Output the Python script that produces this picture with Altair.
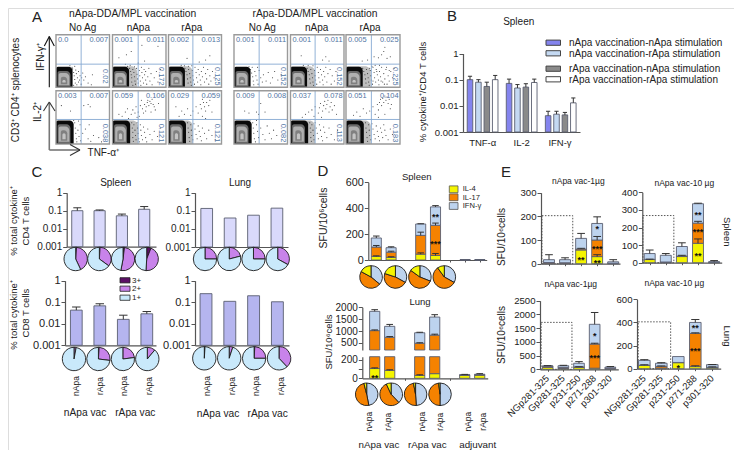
import math
import altair as alt
import pandas as pd

FONT = "Liberation Sans"
W, H = 726, 442
INK = "#222222"
BLUE_TXT = "#4f74a3"
QLINE = "#86a9d2"
layers = []

# ---------- panel B ----------
B_FILL = ["#8484ee", "#c4d9f2", "#8a8a8a", "#ffffff"]
B_TNF = [0.1, 0.08, 0.055, 0.1]
B_TNF_E = [0.135, 0.1, 0.08, 0.145]
B_IL2 = [0.072, 0.048, 0.052, 0.078]
B_IL2_E = [0.105, 0.065, 0.07, 0.105]
B_IFN = [0.0042, 0.0048, 0.0045, 0.013]
B_IFN_E = [0.0062, 0.0062, 0.0056, 0.02]
B_LEGEND = ["nApa vaccination-nApa stimulation", "nApa vaccination-rApa stimulation",
            "rApa vaccination-nApa stimulation", "rApa vaccination-rApa stimulation"]

# ---------- panel C ----------
C_SP4 = [0.1, 0.1, 0.052, 0.12]
C_SP4_E = [0.145, 0.11, 0.065, 0.17]
C_LU4 = [0.135, 0.04, 0.057, 0.14]
C_SP8 = [0.043, 0.068, 0.016, 0.029]
C_SP8_E = [0.06, 0.085, 0.025, 0.037]
C_LU8 = [0.25, 0.11, 0.2, 0.105]
C_PIE_COL = ["#5c0f66", "#c883ea", "#c9e9fb"]
C_PIE_SP4 = [(0.01, 0.42), (0.01, 0.34), (0.02, 0.51), (0.06, 0.45)]
C_PIE_LU4 = [(0.0, 0.25), (0.0, 0.21), (0.0, 0.25), (0.0, 0.33)]
C_PIE_SP8 = [(0.0, 0.03), (0.01, 0.26), (0.0, 0.23), (0.0, 0.11)]
C_PIE_LU8 = [(0.01, 0.0), (0.0, 0.05), (0.01, 0.24), (0.0, 0.38)]

# ---------- panels D, E ----------
CYT_COL = ["#f4f400", "#f58200", "#bdd3ee"]
D_SP_IL4 = [28, 20, 45, 35, 1, 1]
D_SP_IL17 = [100, 60, 190, 268, 2, 2]
D_SP_IFN = [170, 95, 278, 410, 3, 3]
D_SP_E3 = [185, 102, 280, 420, 3, 3]
D_SP_E2 = [112, 68, 215, 285, 2, 2]
D_SP_E1 = [32, 25, 55, 50, 1, 1]
D_SP_SLOT = [0, 1, 3, 4, 6, 7]
D_SP_PIE = [(0.36, 0.47, 0.17), (0.33, 0.47, 0.20), (0.31, 0.54, 0.15), (0.33, 0.57, 0.10)]
D_LU_IL4 = [105, 85, 30, 50, 33, 33]
D_LU_IL17 = [1020, 740, 490, 830, 35, 38]
D_LU_IFN = [1830, 1200, 930, 1590, 38, 44]
D_LU_E3 = [1900, 1280, 950, 1690, 42, 50]
D_LU_E2 = [1050, 770, 510, 870, 35, 38]
D_LU_E1 = [112, 92, 38, 50, 33, 33]
D_LU_PIE = [(0.47, 0.49, 0.04), (0.38, 0.55, 0.07), (0.49, 0.48, 0.03), (0.50, 0.48, 0.02)]
E_PEPTIDES = ["NGp281-325", "Gp281-325", "p231-250", "p271-288", "p301-320"]
E1 = dict(il4=[2, 2, 58, 30, 1], il17=[5, 4, 62, 100, 2], ifn=[17, 17, 107, 170, 8],
          e3=[38, 25, 128, 198, 17], e2=[5, 4, 65, 115, 2], e1=[2, 2, 58, 38, 1], box=203)
E2 = dict(il4=[18, 3, 35, 110, 1], il17=[19, 4, 38, 225, 2], ifn=[52, 42, 92, 335, 6],
          e3=[72, 52, 113, 338, 12], e2=[19, 4, 42, 235, 2], e1=[20, 3, 35, 135, 1], box=268)
E3 = dict(il4=[70, 30, 70, 40, 15], il17=[110, 70, 90, 920, 40], ifn=[125, 130, 220, 1640, 80],
          e3=[135, 145, 280, 2070, 100], e2=[110, 70, 95, 950, 40], e1=[70, 30, 70, 40, 15], box=1710)
E4 = dict(il4=[28, 5, 52, 18, 10], il17=[30, 20, 54, 305, 12], ifn=[72, 47, 105, 400, 35],
          e3=[78, 52, 105, 425, 36], e2=[34, 24, 54, 310, 16], e1=[28, 5, 52, 25, 10], box=405)

# ---------- panel A: values and hand-read event positions (percent of each plot) ----------
A_VALUES = [
    ("0.0", "0.007", "0.02"), ("0.001", "0.011", "0.172"), ("0.002", "0.013", "0.125"),
    ("0.001", "0.011", "0.152"), ("0.001", "0.011", "0.152"), ("0.005", "0.025", "0.225"),
    ("0.003", "0.007", "0.038"), ("0.059", "0.106", "0.121"), ("0.029", "0.059", "0.121"),
    ("0.009", "0.008", "0.082"), ("0.037", "0.078", "0.113"), ("0.051", "0.104", "0.183"),
]
A_DOTS = [
    "31,35 33,28 34,22 35,15 36,8 33,4 38,26 40,18 42,10 37,33 30,38 26,41 42,30 45,22 47,6 52,14 55,20 60,8 68,24 66,5 50,27 35,40 44,14 39,5 48,18",
    "32,36 34,30 35,24 36,18 36,10 38,4 38,34 40,28 41,20 42,12 43,6 45,36 46,25 47,16 48,8 50,32 51,22 52,12 53,4 54,38 55,28 56,18 58,8 59,34 60,24 62,14 62,30 64,6 66,20 68,36 70,12 72,26 74,5 78,18 82,30 85,10 88,22 90,34 28,40 24,44 33,42 41,39 12,56 26,62 35,68 60,50 85,78 55,80 48,46 30,34",
    "31,36 33,30 35,24 36,16 37,8 38,34 40,26 41,18 42,10 43,4 45,32 46,22 47,14 49,6 50,38 52,28 53,18 55,10 56,34 58,24 60,14 61,5 62,30 64,20 66,38 68,10 70,26 72,16 74,34 76,6 78,22 80,12 83,30 86,18 24,42 30,41 38,40 44,41 58,48 70,52 35,55 78,60",
    "31,34 33,27 35,20 36,12 37,5 39,30 41,22 43,14 45,6 47,32 50,18 53,10 55,24 60,12 64,28 68,8 72,18 76,30 82,14 88,24 28,39 34,38 44,38",
    "31,36 33,30 35,24 36,16 37,8 38,34 40,26 41,18 42,10 43,4 45,32 46,22 47,14 49,6 50,38 52,28 53,18 55,10 56,34 58,24 60,14 61,5 62,30 64,20 66,38 68,10 70,26 74,34 76,6 78,22 82,12 85,30 24,42 33,42 42,41 60,52 66,58 72,50 20,60",
    "31,36 33,30 35,24 36,16 37,8 38,34 40,26 41,18 42,10 43,4 45,32 46,22 47,14 49,6 50,38 52,28 53,18 55,10 56,34 58,24 60,14 61,5 62,30 64,20 66,38 68,10 70,26 72,16 74,34 76,6 78,22 80,12 83,30 86,18 89,36 48,40 44,36 54,42 62,42 50,12 57,30 65,12 71,6 75,38 80,32 52,58 60,56 66,62 70,68 72,76 76,55 82,58 40,52 30,50",
    "35,40 36,30 37,20 38,10 39,4 41,26 43,14 45,36 46,6 50,20 55,28 60,10 65,5 70,16 80,12 85,4 62,36 33,44 42,43 27,62 10,72 52,72 60,74 64,70",
    "36,40 37,30 38,22 38,12 39,5 40,36 42,26 43,16 44,8 46,40 47,30 48,20 49,10 50,4 52,36 53,26 54,16 56,8 58,32 60,22 62,12 64,4 66,28 70,18 74,8 78,24 84,14 90,30 30,48 35,56 24,60 28,66 18,52 42,58 12,56 38,64 44,70 48,60 52,72 56,66 60,74 63,70 65,78 68,72 70,80 72,76 74,84 76,74 78,70 66,82 62,62 58,58 50,52 72,60 80,64 86,76 54,82 46,50",
    "36,40 37,30 38,22 39,12 40,5 42,36 43,26 44,16 46,8 48,38 50,28 52,18 54,10 56,34 58,24 60,14 62,6 64,30 68,20 72,10 76,26 82,16 88,8 20,52 25,62 30,56 14,70 36,66 42,54 46,62 52,70 56,58 60,74 62,66 64,84 66,78 68,70 70,62 72,78 74,88 76,72 78,82 64,52 82,60 70,48",
    "35,40 36,30 37,20 38,10 40,4 42,36 44,24 46,12 50,30 54,18 58,8 62,34 66,20 70,10 74,26 80,16 30,45 42,44 28,58 46,56 50,76 58,60 20,62 42,60",
    "36,40 37,30 38,22 38,12 39,5 40,36 42,26 43,16 44,8 46,40 48,30 50,20 52,10 54,36 56,26 58,14 60,6 62,32 64,22 68,12 72,30 76,18 82,8 88,26 22,50 28,56 34,60 40,64 46,70 44,52 52,58 54,68 56,76 60,62 62,72 64,80 66,66 68,74 70,82 72,60 74,70 76,78 78,64 82,72 86,56 58,50",
    "36,40 37,30 38,22 39,12 40,5 42,36 43,26 44,16 46,8 48,38 50,28 52,18 54,10 56,34 58,24 60,14 62,6 64,30 66,22 68,12 70,36 72,26 74,16 78,8 82,28 86,18 14,54 20,60 26,52 32,66 38,58 44,62 50,70 54,56 58,74 60,64 62,78 64,84 66,72 68,86 70,78 72,90 74,82 76,88 78,76 80,84 82,66 84,74 72,56 60,50",
]
A_COLS = [(56, 109.5), (112.5, 166), (168.5, 221.5), (234, 287.5), (290.5, 344), (346, 400)]
A_ROWS = [(34.7, 87.3, 44), (90.7, 144, 46)]
A_VLINE = [47, 48, 46, 47, 46, 47]
A_HALO = [0, 46, 46, 0, 46, 46, 0, 48, 46, 0, 46, 46]


def qs(d, r, **k):
    return alt.Scale(domain=list(d), range=[r[0] - 8, r[1] - 8], nice=False, zero=False, **k)


def ls(d, r):
    return alt.Scale(type="log", domain=list(d), range=[r[0] - 8, r[1] - 8], nice=False)


def seg(x1, y1, x2, y2, color=INK, w=1.0):
    layers.append(alt.Chart(pd.DataFrame({"a": [0]})).mark_rule(color=color, strokeWidth=w).encode(
        x=alt.value(x1 - 8), y=alt.value(y1 - 8), x2=alt.value(x2 - 8), y2=alt.value(y2 - 8)))


def panel(xl, xr, c0, step, yb, yt, ydom, ticks, rows, errs=(), log=False, fs=10, width=0.7,
          xticks=(), stars=(), box=None, show_x=True, xlabels=None, labels_y=None, cap=0.22,
          stroke="#5a5f70", axcol="#555555", fmt="d"):
    xs = qs(((xl - c0) / step, (xr - c0) / step), (xl, xr))
    ys = ls(ydom, (yb, yt)) if log else qs(ydom, (yb, yt), clamp=True)
    lo_d, hi_d = ydom
    rows = [r for r in rows if r[2] > r[1] and r[2] > lo_d and r[1] < hi_d]
    df = pd.DataFrame([{"x0": s - width / 2, "x1": s + width / 2, "lo": l, "hi": h, "c": c} for s, l, h, c in rows])
    yax = dict(values=list(ticks), title=None, grid=False, offset=-(xl - 8), tickSize=4, labelFontSize=fs,
               labelFont=FONT, labelColor=INK, domainColor=axcol, tickColor=axcol, domainWidth=1.2,
               tickWidth=1, labelPadding=1, orient="left", format=fmt)
    xax = dict(title=None, grid=False, labels=False, values=list(xticks), tickSize=2, offset=(yb - 8) - H,
               domainColor=axcol, tickColor=axcol, domainWidth=1.2, orient="bottom") if show_x else None
    # optional dashed window drawn under the bars
    if box is not None:
        bd = pd.DataFrame([{"x0": box[0], "x1": box[1], "lo": lo_d, "hi": box[2]}])
        layers.append(alt.Chart(bd).mark_rect(filled=False, stroke="#444444", strokeWidth=0.9, strokeDash=[1.5, 1.5]).encode(
            x=alt.X("x0:Q", scale=xs, axis=None), x2="x1:Q", y=alt.Y("lo:Q", scale=ys, axis=None), y2="hi:Q"))
    layers.append(alt.Chart(df).mark_rect(stroke=stroke, strokeWidth=0.9).encode(
        x=alt.X("x0:Q", scale=xs, axis=alt.Axis(**xax) if xax else None), x2="x1:Q",
        y=alt.Y("lo:Q", scale=ys, axis=alt.Axis(**yax)), y2="hi:Q",
        fill=alt.Fill("c:N", scale=None)))
    errs = [e for e in errs if e[2] > e[1] and e[1] < hi_d and e[2] > lo_d]
    if errs:
        ed = pd.DataFrame([{"x": s, "xa": s - cap, "xb": s + cap, "lo": l, "hi": h} for s, l, h in errs])
        layers.append(alt.Chart(ed).mark_rule(color="#333333", strokeWidth=1).encode(
            x=alt.X("x:Q", scale=xs, axis=None), y=alt.Y("lo:Q", scale=ys, axis=None), y2="hi:Q"))
        layers.append(alt.Chart(ed).mark_rule(color="#333333", strokeWidth=1).encode(
            x=alt.X("xa:Q", scale=xs, axis=None), x2="xb:Q", y=alt.Y("hi:Q", scale=ys, axis=None)))
    if stars:
        sd = pd.DataFrame([{"x": s, "y": v, "t": t} for s, v, t in stars])
        layers.append(alt.Chart(sd).mark_text(font=FONT, fontSize=9, fontWeight="bold", color="#111111", dy=2).encode(
            x=alt.X("x:Q", scale=xs, axis=None), y=alt.Y("y:Q", scale=ys, axis=None), text="t:N"))
    if xlabels:
        ld = pd.DataFrame({"x": list(range(len(xlabels))), "t": xlabels})
        layers.append(alt.Chart(ld).mark_text(font=FONT, fontSize=9.5, color=INK, angle=315, align="right", baseline="middle").encode(
            x=alt.X("x:Q", scale=xs, axis=None), y=alt.value(labels_y - 8), text="t:N"))


def pies(c0, c1, cy, r, fracs, cols):
    rec = []
    n = len(fracs)
    for i, fr in enumerate(fracs):
        a = 0.0
        for f, c in zip(fr, cols):
            if f > 0:
                rec.append({"i": i, "a": a, "b": a + f, "c": c})
            a += f
        # whatever remains belongs to the last class
        if a < 0.999:
            rec.append({"i": i, "a": a, "b": 1.0, "c": cols[-1]})
    layers.append(alt.Chart(pd.DataFrame(rec)).mark_arc(outerRadius=r, stroke="#1c1c1c", strokeWidth=0.9).encode(
        x=alt.X("i:Q", scale=qs((0, n - 1), (c0, c1)), axis=None, stack=None), y=alt.value(cy - 8),
        theta=alt.Theta("a:Q", scale=alt.Scale(domain=[0, 1], range=[0, 2 * math.pi]), stack=None),
        theta2="b:Q", fill=alt.Fill("c:N", scale=None)))


def stack(slots, s1, s2, s3):
    rows = []
    for i, s in enumerate(slots):
        rows += [(s, 0, s1[i], CYT_COL[0]), (s, s1[i], s2[i], CYT_COL[1]), (s, s2[i], s3[i], CYT_COL[2])]
    return rows


def stack_err(slots, s1, s2, s3, e1, e2, e3):
    out = []
    for i, s in enumerate(slots):
        out += [(s, s1[i], e1[i]), (s, s2[i], e2[i]), (s, s3[i], e3[i])]
    return out


# ---------- A: flow plots ----------
for r, (yt, yb, hl) in enumerate(A_ROWS):
    for c, (xl, xr) in enumerate(A_COLS):
        xs = qs((0, 100), (xl, xr))
        ys = qs((0, 100), (yb, yt))
        big = r == 1
        halo = A_HALO[r * 6 + c]
        if halo:
            hd = pd.DataFrame([{"x0": 0, "x1": halo, "y0": 0, "y1": 44 if big else 40}])
            layers.append(alt.Chart(hd).mark_rect(cornerRadiusTopRight=6, fill="#444444", opacity=0.35).encode(
                x=alt.X("x0:Q", scale=xs, axis=None), x2="x1:Q", y=alt.Y("y0:Q", scale=ys, axis=None), y2="y1:Q"))
        blobs = [
            (0, 33 if big else 31, 0, 44 if big else 39, "#0a0a0a"),
            (3, 27, 2, 37 if big else 31, "#6a6a6a"),
            (5, 25, 4, 33 if big else 27, "#b0b0b0"),
            (9, 21, 6, 26 if big else 20, "#808080"),
            (12, 18, 9, 20 if big else 14, "#c4c4c4"),
        ]
        bd = pd.DataFrame(blobs, columns=["x0", "x1", "y0", "y1", "c"])
        layers.append(alt.Chart(bd).mark_rect(cornerRadiusTopRight=4, cornerRadiusTopLeft=2).encode(
            x=alt.X("x0:Q", scale=xs, axis=None), x2="x1:Q", y=alt.Y("y0:Q", scale=ys, axis=None), y2="y1:Q",
            fill=alt.Fill("c:N", scale=None)))
        pts = [tuple(map(float, p.split(","))) for p in A_DOTS[r * 6 + c].split()]
        layers.append(alt.Chart(pd.DataFrame(pts, columns=["x", "y"])).mark_circle(size=1.1, color="#1c1c1c", opacity=0.9).encode(
            x=alt.X("x:Q", scale=xs, axis=None), y=alt.Y("y:Q", scale=ys, axis=None)))
        qd = pd.DataFrame([{"v": A_VLINE[c], "h": hl, "a": 0, "b": 100}])
        layers.append(alt.Chart(qd).mark_rule(color=QLINE, strokeWidth=0.9).encode(
            x=alt.X("v:Q", scale=xs, axis=None), y=alt.Y("a:Q", scale=ys, axis=None), y2="b:Q"))
        layers.append(alt.Chart(qd).mark_rule(color=QLINE, strokeWidth=0.9).encode(
            y=alt.Y("h:Q", scale=ys, axis=None), x=alt.X("a:Q", scale=xs, axis=None), x2="b:Q"))
        layers.append(alt.Chart(qd).mark_rect(filled=False, stroke="#9a9a9a", strokeWidth=1.4).encode(
            x=alt.X("a:Q", scale=xs, axis=None), x2="b:Q", y=alt.Y("a:Q", scale=ys, axis=None), y2="b:Q"))

seg(49.3, 87.3, 49.3, 36.5, "#111111", 1.1)
seg(44.3, 46, 49.3, 36.5, "#111111", 1.1)
seg(54.3, 46, 49.3, 36.5, "#111111", 1.1)
seg(49.3, 150, 49.3, 103, "#777777", 1.6)
seg(43.5, 111, 49.3, 102, "#333333", 1.1)
seg(55, 111, 49.3, 102, "#333333", 1.1)
seg(49.3, 150, 80, 150, "#777777", 1.6)
seg(70, 144.5, 80, 150, "#333333", 1.1)
seg(70, 155.5, 80, 150, "#333333", 1.1)

# ---------- B ----------
slots_b = [0, 1, 2, 3, 4.65, 5.65, 6.65, 7.65, 9.3, 10.3, 11.3, 12.3]
vals_b = B_TNF + B_IL2 + B_IFN
errs_b = B_TNF_E + B_IL2_E + B_IFN_E
panel(463, 580, 470, 8.4, 132, 53.5, (0.001, 1), [0.001, 0.01, 0.1, 1],
      [(s, 0.001, v, B_FILL[i % 4]) for i, (s, v) in enumerate(zip(slots_b, vals_b))],
      [(s, v, e) for s, v, e in zip(slots_b, vals_b, errs_b)], log=True, fs=9.5, width=0.66, fmt="~g", cap=0.25)
for i, yy in enumerate([42.7, 53.3, 68.7, 79.3]):
    ld = pd.DataFrame([{"a": 0, "b": 1, "c": B_FILL[i]}])
    layers.append(alt.Chart(ld).mark_rect(stroke="#444444", strokeWidth=1).encode(
        x=alt.X("a:Q", scale=qs((0, 1), (546, 560.5)), axis=None), x2="b:Q",
        y=alt.Y("a:Q", scale=qs((0, 1), (yy + 2.6, yy - 2.6)), axis=None), y2="b:Q",
        fill=alt.Fill("c:N", scale=None)))

# ---------- C ----------
C_TOP = "#d9d9fb"
C_BOT = "#b5b5ef"
c_pan = [
    (66.7, 156, 77.3, 22.3, 246.7, 192.7, C_SP4, C_SP4_E, C_TOP, 10),
    (195, 288, 206.7, 23.4, 247, 192.7, C_LU4, None, C_TOP, 10),
    (65, 156, 76.3, 23.5, 345.3, 280.7, C_SP8, C_SP8_E, C_BOT, 11),
    (195, 289, 206, 23.8, 345.3, 280.7, C_LU8, None, C_BOT, 11),
]
for xl, xr, c0, st, yb, yt, v, e, fill, fs in c_pan:
    panel(xl, xr, c0, st, yb, yt, (0.001, 1), [0.001, 0.01, 0.1, 1],
          [(i, 0.001, x, fill) for i, x in enumerate(v)],
          [(i, x, y) for i, (x, y) in enumerate(zip(v, e))] if e else (),
          log=True, fs=fs, width=0.5, fmt="~g", cap=0.18)
pies(75.7, 146.7, 259, 11.7, C_PIE_SP4, C_PIE_COL)
pies(205, 277.7, 259, 11.7, C_PIE_LU4, C_PIE_COL)
pies(74, 147.3, 359, 11.7, C_PIE_SP8, C_PIE_COL)
pies(204.3, 279, 358.3, 11.7, C_PIE_LU8, C_PIE_COL)
for i, yy in enumerate([280.3, 288.7, 297.7]):
    ld = pd.DataFrame([{"a": 0, "b": 1, "c": C_PIE_COL[i]}])
    layers.append(alt.Chart(ld).mark_rect(stroke="#222222", strokeWidth=0.8).encode(
        x=alt.X("a:Q", scale=qs((0, 1), (120, 130)), axis=None), x2="b:Q",
        y=alt.Y("a:Q", scale=qs((0, 1), (yy + 2.6, yy - 2.6)), axis=None), y2="b:Q",
        fill=alt.Fill("c:N", scale=None)))

# ---------- D ----------
panel(368.3, 486.7, 376.3, 14.8, 260, 182.3, (0, 600), [0, 200, 400, 600],
      stack(D_SP_SLOT, D_SP_IL4, D_SP_IL17, D_SP_IFN),
      stack_err(D_SP_SLOT, D_SP_IL4, D_SP_IL17, D_SP_IFN, D_SP_E1, D_SP_E2, D_SP_E3),
      fs=10.8, width=0.68, xticks=[5, 6, 7], stars=[(4, 345, "**"), (4, 140, "***")])
pies(371, 444.3, 277, 11.3, D_SP_PIE, [CYT_COL[2], CYT_COL[1], CYT_COL[0]])
for i, yy in enumerate([189.3, 197.3, 206]):
    ld = pd.DataFrame([{"a": 0, "b": 1, "c": CYT_COL[i]}])
    layers.append(alt.Chart(ld).mark_rect(stroke="#555555", strokeWidth=0.8).encode(
        x=alt.X("a:Q", scale=qs((0, 1), (449.3, 458)), axis=None), x2="b:Q",
        y=alt.Y("a:Q", scale=qs((0, 1), (yy + 3.4, yy - 3.4)), axis=None), y2="b:Q",
        fill=alt.Fill("c:N", scale=None)))
lu_rows = stack(D_SP_SLOT, D_LU_IL4, D_LU_IL17, D_LU_IFN)
lu_errs = stack_err(D_SP_SLOT, D_LU_IL4, D_LU_IL17, D_LU_IFN, D_LU_E1, D_LU_E2, D_LU_E3)
panel(362.3, 487.7, 374.7, 15.0, 350, 307.3, (205, 2000), [500, 1000, 1500, 2000], lu_rows, lu_errs,
      fs=10, width=0.68, show_x=False)
panel(362.3, 487.7, 374.7, 15.0, 378.3, 356.7, (0, 232), [0, 100, 200], lu_rows, lu_errs,
      fs=10, width=0.68, xticks=[2, 5], stars=[(0, 30, "**")])
pies(366.7, 440, 394.3, 11.3, D_LU_PIE, [CYT_COL[2], CYT_COL[1], CYT_COL[0]])

# ---------- E ----------
e_pan = [
    (541, 620, 549, 16.05, 263.7, 192.7, (0, 300), [0, 100, 200, 300], E1, (-0.44, 1.48), [(2, 25, "**"), (3, 153, "*"), (3, 70, "***"), (3, 10, "**")], None),
    (642.3, 721.7, 649.7, 16.1, 262.7, 192.3, (0, 400), [0, 100, 200, 300, 400], E2, (-0.42, 1.5), [(3, 285, "**"), (3, 185, "***"), (3, 50, "**")], None),
    (540, 618.3, 547.7, 15.65, 369.3, 300.7, (0, 2500), [0, 500, 1000, 1500, 2000, 2500], E3, (-0.42, 1.55), [(3, 1290, "*"), (3, 500, "***")], 377),
    (637, 720.7, 644.3, 17, 368.7, 299.3, (0, 600), [0, 200, 400, 600], E4, (-0.36, 1.55), [(3, 370, "**"), (3, 170, "***"), (2, 25, "*")], 377),
]
for xl, xr, c0, st, yb, yt, dom, tk, d, bx, stars_, ly in e_pan:
    sl = [0, 1, 2, 3, 4]
    panel(xl, xr, c0, st, yb, yt, dom, tk, stack(sl, d["il4"], d["il17"], d["ifn"]),
          stack_err(sl, d["il4"], d["il17"], d["ifn"], d["e1"], d["e2"], d["e3"]),
          fs=9.6, width=0.68, xticks=sl, stars=stars_, box=(bx[0], bx[1], d["box"]),
          xlabels=E_PEPTIDES if ly else None, labels_y=ly, cap=0.24)

# ---------- all free text ----------
T = []


def t(s, x, y, size=10, angle=0, color=INK, align="center"):
    T.append(dict(s=s, x=x - 8, y=y - 8, size=size, angle=angle, color=color, align=align))


for s, x, y in [("A", 37, 17), ("B", 452, 16), ("C", 37, 172), ("D", 323, 171), ("E", 506, 172)]:
    t(s, x, y, 15)
t("nApa-DDA/MPL vaccination", 132.7, 14, 10.3)
t("rApa-DDA/MPL vaccination", 315, 14, 10.3)
for s, x in [("No Ag", 82.7), ("nApa", 138.3), ("rApa", 191.7), ("No Ag", 262.3), ("nApa", 316.7), ("rApa", 370)]:
    t(s, x, 28, 10)
t("IFN-γ⁺", 40.7, 57, 10, 270)
t("IL-2⁺", 38.3, 112, 10, 270)
t("CD3⁺ CD4⁺ splenocytes", 16, 90, 10, 270)
t("TNF-α⁺", 103.3, 152.7, 10)
for idx, (tl, tr, br) in enumerate(A_VALUES):
    r = idx // 6
    c = idx % 6
    xl, xr = A_COLS[c]
    yt_, yb_, _ = A_ROWS[r]
    t(tl, xl + 2, yt_ + 5, 7.4, 0, BLUE_TXT, "left")
    t(tr, xr - 1.5, yt_ + 5, 7.4, 0, BLUE_TXT, "right")
    t(br, xr - 5, yb_ - 11, 7.4, 90, BLUE_TXT, "center")
t("Spleen", 518.7, 21.7, 10)
t("% cytokine⁺/CD4 T cells", 423, 92, 9.5, 270)
t("TNF-α", 482.7, 143.3, 9.5)
t("IL-2", 521.7, 143.3, 9.5)
t("IFN-γ", 560, 143.3, 9.5)
for s, y in zip(B_LEGEND, [43, 53.5, 69, 79.5]):
    t(s, 569, y, 10, 0, INK, "left")
t("Spleen", 115.7, 183, 10)
t("Lung", 240, 183, 10)
t("% total cytokine⁺", 14, 221, 9.5, 270)
t("CD4  T cells", 26, 221, 9.5, 270)
t("% total cytokine⁺", 14, 315, 9.5, 270)
t("CD8  T cells", 26, 313, 9.5, 270)
for s, y in zip(["3+", "2+", "1+"], [280.5, 289, 298]):
    t(s, 132, y, 8, 0, INK, "left")
for x, s in [(76, "nApa"), (100, "rApa"), (124, "nApa"), (149, "rApa"), (207, "nApa"), (232, "rApa"), (256, "nApa"), (281, "rApa")]:
    t(s, x, 386, 8.5, 270)
t("nApa vac", 85, 412.7, 10.2)
t("rApa vac", 135.3, 412.7, 10.2)
t("nApa vac", 218, 414, 10.2)
t("rApa vac", 267.7, 414, 10.2)
t("Spleen", 416.7, 177, 9.5)
t("Lung", 420, 302, 9.5)
t("SFU/10⁶cells", 324, 218, 10.5, 270)
t("SFU/10⁶cells", 329.3, 342, 9.5, 270)
for s, y in zip(["IL-4", "IL-17", "IFN-γ"], [189, 197.5, 206]):
    t(s, 462.7, y, 7.6, 0, INK, "left")
for x, s in [(369, "nApa"), (388.3, "rApa"), (422.3, "nApa"), (440, "rApa"), (468.3, "nApa"), (482.7, "rApa")]:
    t(s, x, 421.7, 8.5, 270)
t("nApa vac", 379, 444.5, 9.8)
t("rApa vac", 427.3, 444.5, 9.8)
t("adjuvant", 477.7, 444.5, 9.8)
t("SFU/10⁶cells", 501.7, 237, 10, 270)
t("SFU/10⁶cells", 501.7, 335, 10, 270)
t("nApa vac-1µg", 578.3, 180.7, 8.5)
t("nApa vac-10 µg", 684.3, 183.3, 8.5)
t("nApa vac-1µg", 570.7, 284, 8.5)
t("nApa vac-10 µg", 674.3, 282.7, 8.5)
t("Spleen", 727, 231.7, 9.5, 90)
t("Lung", 727, 336, 9.5, 90)

tdf = pd.DataFrame(T)
for al in ["left", "center", "right"]:
    sub = tdf[tdf["align"] == al]
    layers.append(alt.Chart(sub).mark_text(font=FONT, align=al, baseline="middle").encode(
        x=alt.X("x:Q", scale=None, axis=None), y=alt.Y("y:Q", scale=None, axis=None),
        text="s:N", size=alt.Size("size:Q", scale=None), angle=alt.Angle("angle:Q", scale=None),
        color=alt.Color("color:N", scale=None)))

chart = alt.layer(*layers).resolve_scale(x="independent", y="independent").resolve_axis(
    x="independent", y="independent"
).properties(width=W, height=H, padding=0, autosize=alt.AutoSizeParams(type="none")).configure_view(stroke=None).configure(background="white")
chart.save("out.html", embed_options={"renderer": "svg", "actions": False})
